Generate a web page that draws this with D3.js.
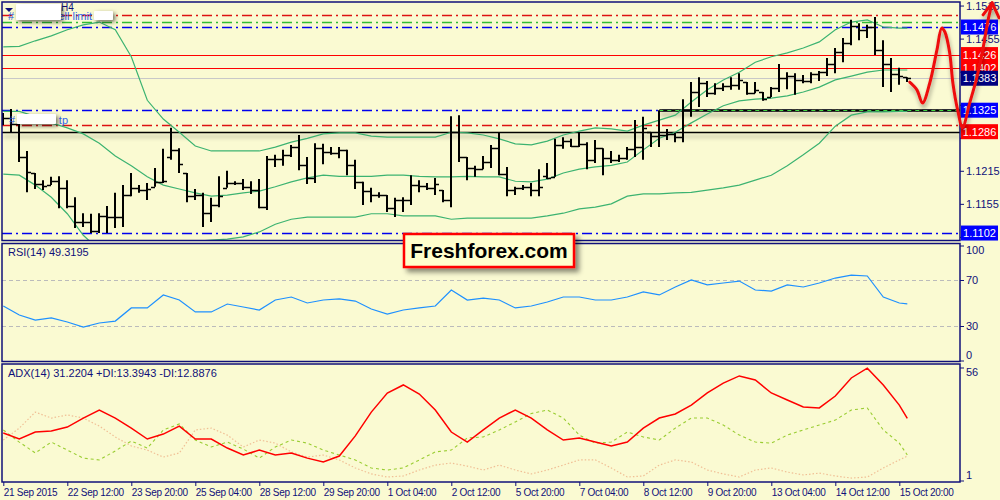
<!DOCTYPE html>
<html><head><meta charset="utf-8">
<script src="https://cdn.jsdelivr.net/npm/d3@7"></script>
<style>
html,body{margin:0;padding:0;background:#FAFAD2;}
svg{display:block;font-family:"Liberation Sans",Arial,sans-serif;}
</style></head><body>
<svg id="c" width="1000" height="500"></svg>
<script>
// ---------- DATA ----------
const timeLabels = ["21 Sep 2015","22 Sep 12:00","23 Sep 20:00","25 Sep 04:00","28 Sep 12:00","29 Sep 20:00","1 Oct 04:00","2 Oct 12:00","5 Oct 20:00","7 Oct 04:00","8 Oct 12:00","9 Oct 20:00","13 Oct 04:00","14 Oct 12:00","15 Oct 20:00"];
const timeLabelBar = [0,8,16,24,32,40,48,56,64,72,80,88,96,104,112];

const open = [1.1307,1.1311,1.1300,1.1240,1.1211,1.1191,1.1189,1.1196,1.1184,1.1151,
1.1122,1.1122,1.1106,1.1133,1.1131,1.1131,1.1171,1.1184,1.1180,1.1186,
1.1195,1.1240,1.1253,1.1211,1.1169,1.1171,1.1138,1.1153,1.1184,1.1193,
1.1193,1.1186,1.1180,1.1149,1.1236,1.1236,1.1244,1.1258,1.1225,1.1202,
1.1256,1.1249,1.1247,1.1253,1.1225,1.1195,1.1178,1.1171,1.1171,1.1147,
1.1162,1.1162,1.1189,1.1187,1.1184,1.1180,1.1162,1.1285,1.1240,1.1220,
1.1218,1.1231,1.1256,1.1209,1.1180,1.1184,1.1186,1.1180,1.1205,1.1204,
1.1262,1.1269,1.1260,1.1264,1.1235,1.1256,1.1238,1.1235,1.1238,1.1255,
1.1258,1.1285,1.1278,1.1280,1.1282,1.1276,1.1325,1.1358,1.1374,1.1356,
1.1365,1.1369,1.1371,1.1376,1.1356,1.1358,1.1349,1.1365,1.1383,1.1387,
1.1380,1.1378,1.1391,1.1394,1.1409,1.1431,1.1447,1.1478,1.1471,1.1476,
1.1434,1.1409,1.1391,1.1385];
const high = [1.1320,1.1327,1.1302,1.1251,1.1211,1.1198,1.1204,1.1205,1.1198,1.1167,
1.1138,1.1137,1.1138,1.1151,1.1175,1.1189,1.1211,1.1189,1.1193,1.1220,
1.1255,1.1293,1.1256,1.1211,1.1182,1.1175,1.1166,1.1205,1.1215,1.1196,
1.1200,1.1196,1.1200,1.1242,1.1244,1.1253,1.1262,1.1280,1.1240,1.1265,
1.1264,1.1258,1.1258,1.1253,1.1235,1.1195,1.1184,1.1176,1.1171,1.1166,
1.1167,1.1207,1.1198,1.1193,1.1202,1.1180,1.1314,1.1316,1.1240,1.1224,
1.1242,1.1262,1.1285,1.1222,1.1186,1.1189,1.1193,1.1218,1.1229,1.1273,
1.1276,1.1273,1.1284,1.1267,1.1271,1.1256,1.1251,1.1244,1.1258,1.1307,
1.1313,1.1285,1.1325,1.1291,1.1284,1.1345,1.1376,1.1385,1.1378,1.1374,
1.1374,1.1385,1.1392,1.1376,1.1376,1.1358,1.1367,1.1409,1.1394,1.1392,
1.1389,1.1394,1.1396,1.1420,1.1438,1.1456,1.1489,1.1483,1.1480,1.1494,
1.1452,1.1420,1.1402,1.1385];
const low = [1.1298,1.1285,1.1231,1.1176,1.1182,1.1180,1.1189,1.1147,1.1147,1.1111,
1.1113,1.1102,1.1102,1.1102,1.1111,1.1113,1.1169,1.1175,1.1162,1.1186,
1.1193,1.1235,1.1211,1.1158,1.1162,1.1113,1.1122,1.1149,1.1184,1.1189,
1.1180,1.1173,1.1147,1.1144,1.1222,1.1224,1.1240,1.1216,1.1191,1.1193,
1.1227,1.1244,1.1238,1.1207,1.1182,1.1153,1.1158,1.1166,1.1140,1.1131,
1.1140,1.1153,1.1176,1.1180,1.1171,1.1158,1.1149,1.1231,1.1198,1.1204,
1.1218,1.1220,1.1207,1.1169,1.1171,1.1180,1.1169,1.1169,1.1200,1.1204,
1.1255,1.1258,1.1258,1.1218,1.1229,1.1207,1.1229,1.1231,1.1235,1.1240,
1.1235,1.1258,1.1258,1.1271,1.1267,1.1267,1.1313,1.1331,1.1349,1.1353,
1.1360,1.1362,1.1362,1.1353,1.1356,1.1342,1.1349,1.1358,1.1363,1.1353,
1.1374,1.1374,1.1378,1.1387,1.1392,1.1412,1.1443,1.1452,1.1456,1.1425,
1.1367,1.1358,1.1371,1.1376];
const close = [1.1311,1.1300,1.1240,1.1213,1.1191,1.1187,1.1196,1.1184,1.1151,1.1122,
1.1122,1.1106,1.1133,1.1131,1.1131,1.1171,1.1184,1.1180,1.1182,1.1195,
1.1196,1.1253,1.1227,1.1169,1.1171,1.1138,1.1153,1.1169,1.1193,1.1193,
1.1186,1.1180,1.1149,1.1236,1.1236,1.1244,1.1258,1.1225,1.1202,1.1256,
1.1249,1.1247,1.1253,1.1225,1.1195,1.1178,1.1171,1.1171,1.1147,1.1162,
1.1162,1.1189,1.1187,1.1184,1.1191,1.1162,1.1285,1.1240,1.1220,1.1218,
1.1231,1.1256,1.1209,1.1180,1.1184,1.1186,1.1180,1.1186,1.1202,1.1262,
1.1269,1.1260,1.1264,1.1235,1.1256,1.1238,1.1235,1.1238,1.1255,1.1258,
1.1293,1.1278,1.1280,1.1282,1.1276,1.1325,1.1358,1.1374,1.1356,1.1365,
1.1369,1.1371,1.1380,1.1356,1.1362,1.1345,1.1365,1.1383,1.1387,1.1380,
1.1378,1.1391,1.1394,1.1409,1.1431,1.1447,1.1478,1.1471,1.1476,1.1434,
1.1409,1.1391,1.1387,1.1383];

// indicator samples (bar index of each sample)
const sampleBar = [0,2,4,6,8,10,12,14,16,18,20,22,24,26,28,30,32,34,36,38,40,42,44,46,48,50,52,54,56,58,60,62,64,66,68,70,72,74,76,78,80,82,84,86,88,90,92,94,96,98,100,102,104,106,108,110,112,113];
const bbUpper = [1.1440,1.1441,1.1451,1.1460,1.1471,1.1480,1.1485,1.1471,1.1422,1.1343,
1.1309,1.1285,1.1260,1.1251,1.1251,1.1251,1.1251,1.1258,1.1267,1.1274,
1.1282,1.1284,1.1284,1.1278,1.1276,1.1276,1.1276,1.1276,1.1285,1.1284,
1.1280,1.1273,1.1264,1.1262,1.1269,1.1280,1.1287,1.1293,1.1291,1.1287,
1.1298,1.1307,1.1316,1.1340,1.1362,1.1380,1.1394,1.1412,1.1422,1.1429,
1.1438,1.1449,1.1471,1.1485,1.1489,1.1476,1.1474,1.1474];
const bbMiddle = [1.1323,1.1323,1.1314,1.1302,1.1293,1.1282,1.1265,1.1242,1.1224,1.1204,
1.1189,1.1182,1.1175,1.1169,1.1171,1.1175,1.1178,1.1186,1.1195,1.1202,
1.1207,1.1205,1.1205,1.1205,1.1207,1.1207,1.1205,1.1204,1.1204,1.1205,
1.1204,1.1204,1.1196,1.1195,1.1200,1.1211,1.1218,1.1222,1.1225,1.1231,
1.1253,1.1274,1.1285,1.1302,1.1318,1.1333,1.1342,1.1345,1.1347,1.1351,
1.1358,1.1367,1.1380,1.1387,1.1394,1.1398,1.1398,1.1398];
const bbLower = [1.1209,1.1207,1.1189,1.1167,1.1137,1.1098,1.1071,1.1057,1.1049,1.1049,
1.1062,1.1080,1.1087,1.1089,1.1091,1.1095,1.1104,1.1118,1.1127,1.1131,
1.1131,1.1131,1.1131,1.1137,1.1137,1.1133,1.1133,1.1133,1.1127,1.1129,
1.1129,1.1129,1.1129,1.1129,1.1133,1.1138,1.1146,1.1149,1.1155,1.1169,
1.1173,1.1173,1.1175,1.1176,1.1180,1.1184,1.1189,1.1198,1.1207,1.1224,
1.1244,1.1265,1.1296,1.1316,1.1322,1.1322,1.1323,1.1323];
const rsi = [47.4,39.6,35.2,37.0,33.5,29.1,32.6,34.3,45.7,45.7,
57.0,52.6,42.2,42.2,49.1,46.5,43.9,52.6,55.2,50.0,
52.6,53.5,51.7,44.8,40.4,43.9,45.7,47.4,61.3,52.6,
54.3,52.6,45.7,47.4,50.9,55.2,55.2,52.6,52.6,55.2,
59.6,57.0,63.9,70.0,65.7,67.4,69.1,61.3,60.4,65.7,
63.9,67.4,71.7,74.3,73.5,55.2,50.0,49.3];
const adx = [24.1,21.2,24.6,25.1,27.0,31.4,35.3,31.4,26.5,21.2,
23.6,27.5,21.2,21.2,16.8,13.4,15.8,13.4,14.4,11.9,
10.0,12.9,22.7,34.3,43.6,47.5,43.1,35.3,24.6,19.7,
25.6,31.4,35.3,31.4,25.6,20.7,21.7,19.7,17.8,19.7,
26.5,31.4,33.4,37.7,43.6,48.4,51.9,49.9,43.6,40.2,
36.8,36.3,42.1,50.9,55.7,47.5,37.7,31.2];
const plusDI = [25.6,19.7,14.4,19.7,15.8,11.9,11.0,15.4,20.2,16.8,
25.6,28.5,20.7,17.3,19.7,16.3,11.9,17.3,20.7,19.2,
15.8,13.4,11.0,7.1,6.1,7.1,11.0,14.9,15.8,21.7,
22.2,25.6,29.5,33.6,35.3,31.4,23.1,19.2,19.7,24.6,
22.2,20.7,26.5,31.4,31.4,28.0,23.1,19.7,19.2,23.1,
25.6,28.0,30.4,35.3,36.3,25.6,19.2,13.4];
const minusDI = [20.7,26.5,34.3,31.4,32.9,31.4,27.5,22.2,17.8,15.8,
12.4,14.4,25.6,26.5,23.1,17.3,20.7,19.2,14.9,12.4,
13.4,11.0,7.1,4.2,2.7,3.2,6.1,8.5,9.5,8.0,
6.1,8.5,6.1,4.2,6.1,8.5,11.0,11.0,7.1,2.7,
3.2,8.5,11.0,10.0,6.1,4.2,2.7,6.1,7.1,5.1,
3.7,4.6,3.2,2.2,2.7,7.1,11.0,12.9];

const priceTicks = [1.1095,1.1155,1.1215,1.1275,1.1335,1.1395,1.1455,1.1515];
const levelPrices = [1.1498,1.1486,1.1476,1.1426,1.1402,1.1383,1.1325,1.1298,1.1286,1.1102];
const labelPrices = [1.1476,1.1426,1.1402,1.1383,1.1325,1.1286,1.1102];
const rsiTicks = [0,30,70,100];
const adxTicks = [1,56];
// freehand forecast arrow: [bar index, price]
const forecastBar = [113.3,114.2,114.9,115.8,116.7,117.3,117.7,118.3,118.7,119.3,119.9,120.8,121.7,122.5,123.1,123.6];
const forecastPrice = [1.1376,1.1362,1.1338,1.1374,1.1434,1.1474,1.1467,1.1429,1.1374,1.1325,1.1294,1.1338,1.1385,1.1440,1.1489,1.1520];

// ---------- DRAW ----------
const svg = d3.select("#c");
const NAVY = "#10107a";
const defs = svg.append("defs");
defs.append("filter").attr("id","lsh").attr("filterUnits","userSpaceOnUse")
  .attr("x",0).attr("y",0).attr("width",1000).attr("height",500)
  .append("feDropShadow").attr("dx",1).attr("dy",4).attr("stdDeviation",2.2)
  .attr("flood-color","#000").attr("flood-opacity",0.35);
defs.append("filter").attr("id","bsh").attr("x","-30%").attr("y","-60%").attr("width","160%").attr("height","220%")
  .append("feDropShadow").attr("dx",2).attr("dy",2).attr("stdDeviation",2.2)
  .attr("flood-color","#000").attr("flood-opacity",0.55);
defs.append("filter").attr("id","logosh").attr("x","-10%").attr("y","-30%").attr("width","125%").attr("height","170%")
  .append("feDropShadow").attr("dx",4).attr("dy",4).attr("stdDeviation",2.5)
  .attr("flood-color","#000").attr("flood-opacity",0.45);
defs.append("clipPath").attr("id","cm").append("rect").attr("x",2).attr("y",2).attr("width",958).attr("height",238.5);
defs.append("clipPath").attr("id","cr").append("rect").attr("x",2).attr("y",244).attr("width",958).attr("height",117);
defs.append("clipPath").attr("id","ca").append("rect").attr("x",2).attr("y",364.5).attr("width",958).attr("height",117);

svg.append("rect").attr("width",1000).attr("height",500).attr("fill","#FAFAD2");

const x = d3.scaleLinear().domain([0,113]).range([3.3,907.3]);
const y = d3.scaleLinear().domain([1.1089,1.1516]).range([240.2,5]);
const yR = d3.scaleLinear().domain([0,100]).range([360.5,245.5]);
const yA = d3.scaleLinear().domain([1,56]).range([480.5,367.5]);

// ---- main panel ----
const gm = svg.append("g").attr("clip-path","url(#cm)");
const levelStyle = [
  {c:"#dd1111",d:"10,4,2,4",w:1.3},
  {c:"#33bb33",d:"10,4,2,4",w:1.3},
  {c:"#0000ee",d:"10,4,2,4",w:1.6},
  {c:"#ff0000",d:null,w:1.2},
  {c:"#ff0000",d:null,w:1.2},
  {c:"#c8c8c8",d:null,w:1},
  {c:"#0000ee",d:"10,4,2,4",w:1.6},
  {c:"#dd1111",d:"10,4,2,4",w:1.3},
  {c:"#000000",d:null,w:1.6,sh:true},
  {c:"#0000ee",d:"10,4,2,4",w:1.6}
];
levelPrices.forEach((p,i)=>{
  const s = levelStyle[i];
  const ln = gm.append("line").attr("x1",2).attr("x2",960)
    .attr("y1",Math.round(y(p))+0.5).attr("y2",Math.round(y(p))+0.5)
    .attr("stroke",s.c).attr("stroke-width",s.w);
  if (s.d) ln.attr("stroke-dasharray",s.d);
  if (s.sh) ln.attr("filter","url(#lsh)");
});
// black thick line at 1.1325 from bar 82
const y1325 = Math.round(y(levelPrices[6]))+0.5;
gm.append("line").attr("x1",x(82)).attr("x2",960).attr("y1",y1325).attr("y2",y1325)
  .attr("stroke","#000").attr("stroke-width",2.6).attr("filter","url(#lsh)");
gm.append("line").attr("x1",x(82)).attr("x2",960).attr("y1",y1325).attr("y2",y1325)
  .attr("stroke","#44dd44").attr("stroke-width",1.2).attr("stroke-dasharray","4,4");

// bollinger bands
const bbLine = arr => d3.line().x((d,i)=>x(sampleBar[i])).y(d=>y(d))(arr);
[bbUpper,bbMiddle,bbLower].forEach(a=>{
  gm.append("path").attr("d",bbLine(a)).attr("fill","none").attr("stroke","#3cb371").attr("stroke-width",1.2);
});

// OHLC bars
let bp = "";
high.forEach((h,i)=>{
  const xx = Math.round(x(i));
  bp += `M${xx},${y(h)}V${y(low[i])}`;
});
gm.append("path").attr("d",bp).attr("stroke","#000").attr("stroke-width",2).attr("fill","none");
let tp = "";
high.forEach((h,i)=>{
  const xx = Math.round(x(i));
  const yo = Math.round(y(open[i]))+0.5, yc = Math.round(y(close[i]))+0.5;
  tp += `M${xx-4},${yo}H${xx}M${xx},${yc}H${xx+4}`;
});
gm.append("path").attr("d",tp).attr("stroke","#000").attr("stroke-width",1.5).attr("fill","none");

// top-left object labels
svg.append("path").attr("d","M5,8L13,8L9,12Z").attr("fill",NAVY);
svg.append("text").attr("x",8).attr("y",20).attr("font-size",11).attr("fill","#2255dd").text("#");
svg.append("text").attr("x",61).attr("y",11).attr("font-size",10).attr("fill",NAVY).text("H4");
svg.append("text").attr("x",92).attr("y",20).attr("text-anchor","end").attr("font-size",11).attr("fill","#3366ee").text("1498 sell limit");
svg.append("rect").attr("x",16).attr("y",4).attr("width",45).attr("height",16).attr("rx",1).attr("fill","#fff").attr("filter","url(#bsh)");
svg.append("rect").attr("x",94).attr("y",11).attr("width",19).attr("height",9).attr("rx",1).attr("fill","#fff").attr("filter","url(#bsh)");
svg.append("text").attr("x",9).attr("y",124).attr("font-size",11).attr("fill","#2255dd").text("#");
svg.append("text").attr("x",68).attr("y",124).attr("text-anchor","end").attr("font-size",11).attr("fill","#3366ee").text("345678 tp");
svg.append("rect").attr("x",17).attr("y",114).attr("width",39).attr("height",10).attr("rx",1).attr("fill","#fff").attr("filter","url(#bsh)");

// ---- RSI panel ----
const gr = svg.append("g").attr("clip-path","url(#cr)");
[70,30].forEach(v=>{
  gr.append("line").attr("x1",2).attr("x2",960).attr("y1",Math.round(yR(v))+0.5).attr("y2",Math.round(yR(v))+0.5)
    .attr("stroke","#bbbbbb").attr("stroke-dasharray","4,3");
});
gr.append("path").attr("d",d3.line().x((d,i)=>x(sampleBar[i])).y(d=>yR(d))(rsi))
  .attr("fill","none").attr("stroke","#1e90ff").attr("stroke-width",1.2);
svg.append("text").attr("x",8).attr("y",256).attr("font-size",11).attr("fill",NAVY).text("RSI(14) 49.3195");

// ---- ADX panel ----
const ga = svg.append("g").attr("clip-path","url(#ca)");
const aLine = arr => d3.line().x((d,i)=>x(sampleBar[i])).y(d=>yA(d))(arr);
ga.append("path").attr("d",aLine(minusDI)).attr("fill","none").attr("stroke","#f0bf95").attr("stroke-width",1.2).attr("stroke-dasharray","1.5,2");
ga.append("path").attr("d",aLine(plusDI)).attr("fill","none").attr("stroke","#9acd32").attr("stroke-width",1.1).attr("stroke-dasharray","3,3");
ga.append("path").attr("d",aLine(adx)).attr("fill","none").attr("stroke","#ff0000").attr("stroke-width",1.5);
svg.append("text").attr("x",8).attr("y",377).attr("font-size",11).attr("fill",NAVY).text("ADX(14) 31.2204 +DI:13.3943 -DI:12.8876");

// ---- panel borders ----
[[2,2,958,238.5],[2,243.5,958,118],[2,364,958,118]].forEach(r=>{
  svg.append("rect").attr("x",r[0]).attr("y",r[1]).attr("width",r[2]).attr("height",r[3])
    .attr("fill","none").attr("stroke",NAVY).attr("stroke-width",1.5);
});

// ---- axes ----
function styleAxis(g, fs){
  g.select(".domain").remove();
  g.selectAll(".tick line").attr("stroke",NAVY);
  g.selectAll("text").attr("fill",NAVY).attr("font-size",fs||11).attr("font-family","Liberation Sans, Arial, sans-serif");
}
// labels hidden behind the price boxes are not written
const hiddenTick = p => labelPrices.some(l => Math.abs(y(l)-y(p)) < 7.5);
const ay = svg.append("g").attr("transform","translate(960,0)")
  .call(d3.axisRight(y).tickValues(priceTicks).tickFormat(p => hiddenTick(p) ? "" : d3.format(".4f")(p)).tickSize(4).tickPadding(2));
styleAxis(ay);
const ar = svg.append("g").attr("transform","translate(960,0)")
  .call(d3.axisRight(yR).tickValues(rsiTicks).tickFormat(d3.format("d")).tickSize(4).tickPadding(2));
styleAxis(ar);
ar.selectAll(".tick text").attr("dy",d=> d===100?"0.75em": d===0?"-0.15em":"0.32em");
const aa = svg.append("g").attr("transform","translate(960,0)")
  .call(d3.axisRight(yA).tickValues(adxTicks).tickFormat(d3.format("d")).tickSize(4).tickPadding(2));
styleAxis(aa);
aa.selectAll(".tick text").attr("dy",d=> d===56?"0.75em":"-0.15em");
const ax = svg.append("g").attr("transform","translate(0,482)")
  .call(d3.axisBottom(x).tickValues(timeLabelBar).tickFormat((d,i)=>timeLabels[i]).tickSize(4).tickPadding(3));
styleAxis(ax, 10);
ax.selectAll(".tick text").attr("text-anchor","start").attr("x",0).attr("letter-spacing","-0.3px");

// ---- price labels ----
const labelColor = ["#0000ff","#ff0000","#ff0000","#000080","#0000ff","#ff0000","#0000ff"];
labelPrices.forEach((p,i)=>{
  const yy = y(p);
  svg.append("rect").attr("x",961).attr("y",yy-7.5).attr("width",37).attr("height",15).attr("fill",labelColor[i]);
  svg.append("text").attr("x",979.5).attr("y",yy+4).attr("text-anchor","middle").attr("font-size",11)
    .attr("fill","#fff").text(d3.format(".4f")(p));
});

// ---- forecast arrow ----
const fpts = forecastBar.map((b,i)=>[x(b),y(forecastPrice[i])]);
const fg = svg.append("g").attr("filter","url(#lsh)");
fg.append("path").attr("d",d3.line().curve(d3.curveCatmullRom)(fpts)).attr("fill","none")
  .attr("stroke","#ee1111").attr("stroke-width",3).attr("stroke-linecap","round");
const tip = fpts[fpts.length-1];
fg.append("path").attr("d",`M${tip[0]-9},${tip[1]+12}L${tip[0]},${tip[1]}L${tip[0]+7},${tip[1]+15}`)
  .attr("fill","none").attr("stroke","#ee1111").attr("stroke-width",3).attr("stroke-linecap","round").attr("stroke-linejoin","round");

// ---- logo ----
svg.append("rect").attr("x",404).attr("y",234).attr("width",170).attr("height",33)
  .attr("fill","#ffffcc").attr("stroke","#ff0000").attr("stroke-width",2.5).attr("filter","url(#logosh)");
svg.append("text").attr("x",489).attr("y",258).attr("text-anchor","middle").attr("font-size",21)
  .attr("font-weight","bold").attr("fill","#000").text("Freshforex.com");
</script>
</body></html>
